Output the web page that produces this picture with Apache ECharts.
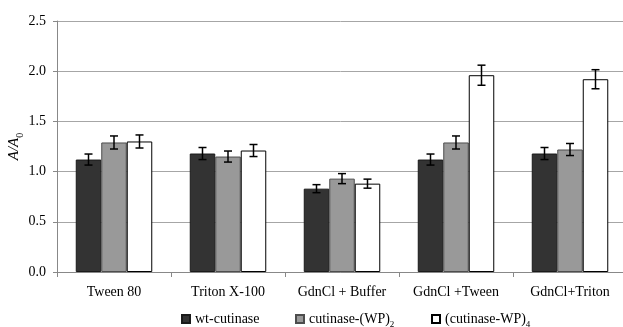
<!DOCTYPE html>
<html><head><meta charset="utf-8">
<script src="https://cdn.jsdelivr.net/npm/echarts@6/dist/echarts.min.js"></script>
<style>html,body{margin:0;padding:0;background:#fff}#c{width:623px;height:327px}</style>
</head><body><div id="c"></div>
<script>
const categories = ['Tween 80', 'Triton X-100', 'GdnCl + Buffer', 'GdnCl +Tween', 'GdnCl+Triton'];
const seriesNames = ['wt-cutinase', 'cutinase-(WP)2', '(cutinase-WP)4'];
const wt = [1.12, 1.18, 0.83, 1.12, 1.18];
const wp2 = [1.29, 1.15, 0.93, 1.29, 1.22];
const wp4 = [1.30, 1.21, 0.88, 1.96, 1.92];
const wtErr = [0.055, 0.06, 0.04, 0.055, 0.06];
const wp2Err = [0.065, 0.055, 0.05, 0.065, 0.06];
const wp4Err = [0.065, 0.06, 0.045, 0.10, 0.095];
const yTicks = [0, 0.5, 1.0, 1.5, 2.0, 2.5];

const font = 'Liberation Serif';
const BW = 25.5;
const fills = ['#333333', '#999999', '#ffffff'];
const borders = ['#1a1a1a', '#4d4d4d', '#000000'];
const vals = [wt, wp2, wp4];
const errs = [wtErr, wp2Err, wp4Err];

function errSeries(k) {
  const offset = (k - 1) * BW;
  return {
    type: 'custom', z: 10, silent: true,
    encode: { x: 0, y: 1 },
    data: vals[k].map((v, i) => [i, v, errs[k][i]]),
    renderItem: function (params, api) {
      const i = api.value(0), v = api.value(1), e = api.value(2);
      const hi = api.coord([i, v + e]);
      const lo = api.coord([i, v - e]);
      const cx = hi[0] + offset;
      const st = { stroke: '#000', lineWidth: 1.5 };
      return { type: 'group', children: [
        { type: 'line', shape: { x1: cx, y1: hi[1], x2: cx, y2: lo[1] }, style: st },
        { type: 'line', shape: { x1: cx - 4, y1: hi[1], x2: cx + 4, y2: hi[1] }, style: st },
        { type: 'line', shape: { x1: cx - 4, y1: lo[1], x2: cx + 4, y2: lo[1] }, style: st }
      ]};
    }
  };
}

const barSeries = seriesNames.map((n, k) => ({
  name: n, type: 'bar', barWidth: BW, barGap: '0%',
  data: vals[k],
  itemStyle: { color: fills[k], borderColor: borders[k], borderWidth: 1 }
}));

const legendRich = {
  m: { fontSize: 14, fontFamily: font, color: '#000', lineHeight: 14, verticalAlign: 'middle' },
  s: { fontSize: 9, fontFamily: font, color: '#000', lineHeight: 9, verticalAlign: 'bottom', padding: [0, 0, -3, 0] }
};
function legFmt(name) {
  if (name === 'cutinase-(WP)2') return '{m|cutinase-(WP)}{s|2}';
  if (name === '(cutinase-WP)4') return '{m|(cutinase-WP)}{s|4}';
  return '{m|' + name + '}';
}
const legendLefts = [181, 295, 431];

const chart = echarts.init(document.getElementById('c'), null, { renderer: 'canvas' });
chart.setOption({
  animation: false,
  backgroundColor: '#fff',
  grid: { left: 57, right: -4, top: 21, bottom: 55, containLabel: false, outerBoundsMode: 'none' },
  legend: seriesNames.map((n, k) => ({
    data: [n], left: legendLefts[k], top: 312, itemWidth: 8, itemHeight: 8, itemGap: 5,
    padding: 0, icon: 'rect', formatter: legFmt,
    textStyle: { fontFamily: font, fontSize: 14, color: '#000', lineHeight: 14, rich: legendRich }
  })),
  xAxis: {
    type: 'category', data: categories,
    axisLine: { lineStyle: { color: '#888', width: 1 } },
    axisTick: { show: true, length: 5, lineStyle: { color: '#888' } },
    axisLabel: { fontFamily: font, fontSize: 14, color: '#000', margin: 13, interval: 0, hideOverlap: false }
  },
  yAxis: {
    type: 'value', min: 0, max: 2.5, interval: 0.5,
    name: '{i|A/A}{s|0}', nameLocation: 'middle', nameRotate: 90, nameGap: 35,
    nameMoveOverlap: false,
    nameTextStyle: { rich: {
      i: { fontFamily: font, fontSize: 15, fontStyle: 'italic', color: '#000', lineHeight: 15 },
      s: { fontFamily: font, fontSize: 10, color: '#000', lineHeight: 10, verticalAlign: 'bottom', padding: [0, 0, -3, 0] }
    } },
    axisLine: { show: true, lineStyle: { color: '#888' } },
    axisTick: { show: true, length: 4, lineStyle: { color: '#888' } },
    splitLine: { lineStyle: { color: '#a6a6a6', width: 1 } },
    axisLabel: { fontFamily: font, fontSize: 14, color: '#000', margin: 11,
      formatter: v => v.toFixed(1) }
  },
  series: barSeries.concat([0, 1, 2].map(errSeries))
});
</script></body></html>
